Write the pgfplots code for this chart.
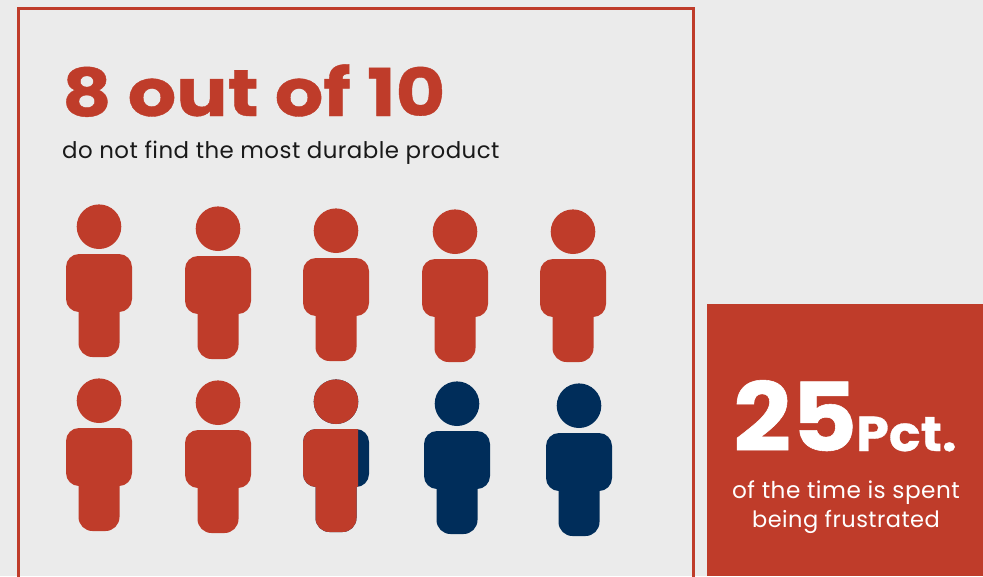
\documentclass[border=0pt]{standalone}
\usepackage{fontspec}
\usepackage{pgfplots}
\pgfplotsset{compat=1.18}
\setmainfont{Poppins}
\newfontfamily\heavy[FakeBold=0.6,FakeStretch=1.155]{Poppins Bold}
\newfontfamily\heavynarrow[FakeBold=0.6,FakeStretch=1.07]{Poppins Bold}
\newfontfamily\plain[LetterSpace=2.0]{Poppins}
\definecolor{paper}{HTML}{EBEBEB}
\definecolor{brick}{HTML}{BF3C2A}
\definecolor{navy}{HTML}{002D5A}

% Rounded rectangle: #1,#2 lower left, #3,#4 upper right, #5 corner radius
\newcommand{\rrect}[5]{%
  {\pgfsetcornersarced{\pgfpoint{#5pt}{#5pt}}%
   \pgfpathmoveto{\pgfpoint{#1pt}{#2pt}}%
   \pgfpathlineto{\pgfpoint{#3pt}{#2pt}}%
   \pgfpathlineto{\pgfpoint{#3pt}{#4pt}}%
   \pgfpathlineto{\pgfpoint{#1pt}{#4pt}}%
   \pgfpathclose
   \pgfusepath{fill}}}
% One figure, origin near the centre of the head, units in pixels of the drawing
\newcommand{\figureshape}{%
  \pgfpathcircle{\pgfpoint{0pt}{-0.7pt}}{22.3pt}\pgfusepath{fill}%
  \rrect{-33}{-86}{33}{-28}{13}%
  \rrect{-20.5}{-131}{20.5}{-60}{14}}
\pgfdeclareplotmark{brickperson}{\pgfsetfillcolor{brick}\figureshape}
\pgfdeclareplotmark{navyperson}{\pgfsetfillcolor{navy}\figureshape}
% Same figure, brick up to 22 px right of the head centre and navy beyond
\pgfdeclareplotmark{personsplit}{%
  \pgfsetfillcolor{navy}\figureshape
  \pgfpathrectanglecorners{\pgfpoint{-40pt}{-140pt}}{\pgfpoint{22pt}{30pt}}%
  \pgfusepath{clip}%
  \pgfsetfillcolor{brick}\figureshape}

\begin{document}
\begin{tikzpicture}
\begin{axis}[
  width=983pt, height=576pt, scale only axis,
  xmin=0, xmax=983, ymin=0, ymax=576, y dir=reverse,
  hide axis, clip=true]
  % page ground
  \addplot[fill=paper, draw=none] coordinates {(0,0) (983,0) (983,576) (0,576)} -- cycle;
  % outlined panel and filled call-out
  \addplot[draw=brick, line width=3pt, fill=none] coordinates {(18,8) (693,8) (693,600) (18,600)} -- cycle;
  \addplot[fill=brick, draw=none] coordinates {(707,304) (983,304) (983,576) (707,576)} -- cycle;
  % the figures, brick for those who do not find it and navy for the rest
  \addplot[only marks, mark=brickperson] coordinates {
    (99,226) (218,228) (336,230) (455,231) (573,231) (99,400) (218,402)};
  \addplot[only marks, mark=personsplit] coordinates {(336,401)};
  \addplot[only marks, mark=navyperson] coordinates {(457,403) (579,405)};
  % text
  \node[anchor=base west, inner sep=0pt, text=brick, font=\heavy\fontsize{66}{66}\selectfont] at (axis cs:62,116) {8 out of 10};
  \node[anchor=base west, inner sep=0pt, text=black!90, font=\plain\fontsize{22.9}{24}\selectfont] at (axis cs:62,158) {do not find the most durable product};
  \node[anchor=base west, inner sep=0pt, text=white, font=\heavynarrow\fontsize{95}{95}\selectfont] at (axis cs:733,451) {25};
  \node[anchor=base west, inner sep=0pt, text=white, font=\heavynarrow\fontsize{49}{49}\selectfont] at (axis cs:856,451) {Pct.};
  \node[anchor=base, inner sep=0pt, text=white, font=\plain\fontsize{23.2}{24}\selectfont] at (axis cs:846,498) {of the time is spent};
  \node[anchor=base, inner sep=0pt, text=white, font=\plain\fontsize{22.5}{24}\selectfont] at (axis cs:846,527) {being frustrated};
\end{axis}
\end{tikzpicture}
\end{document}
